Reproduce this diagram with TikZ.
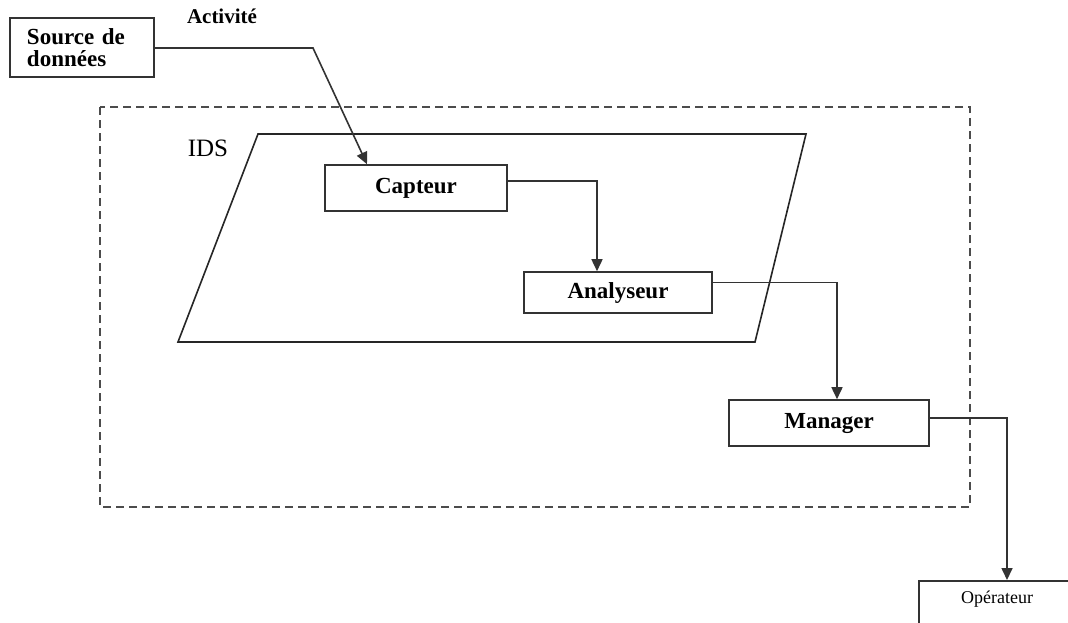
\documentclass[tikz,border=0pt]{standalone}
\usepackage{fontspec}
\setmainfont{Liberation Serif}
\usetikzlibrary{arrows.meta}

\tikzset{
  bloc/.style={draw=black!80, line width=1.6pt, fill=white, inner sep=0pt,
    font=\fontsize{23}{22}\selectfont\bfseries},
  fleche/.style={draw=black!80, line width=1.6pt, -{Triangle[length=12pt,width=11pt]}}
}

\begin{document}
\begin{tikzpicture}[x=1pt, y=-1pt]
    \clip (0,0) rectangle (1068,622);
    \fill[white] (0,0) rectangle (1068,622);

    % Zone en pointilles
    \draw[black!70, line width=1.6pt, dash pattern=on 8pt off 5pt] (100,107) rectangle (970,507);

    % IDS
    \draw[black!85, line width=1.6pt] (258,134) -- (806,134) -- (755,342) -- (178,342) -- cycle;
    \node[font=\fontsize{25}{30}\selectfont] (ids) at (208,148) {IDS};

    % Blocs
    \node[bloc, minimum width=144pt, minimum height=59pt, text width=110pt, inner xsep=17pt, align=left]
        (src) at (82,47.5) {Source de\\donn\'ees};
    \node[font=\fontsize{21}{25}\selectfont\bfseries] (act) at (222,16) {Activit\'e};
    \node[bloc, minimum width=182pt, minimum height=46pt] (capteur) at (416,188) {\raisebox{5pt}{Capteur}};
    \node[bloc, minimum width=188pt, minimum height=41pt] (analyseur) at (618,292.5) {\raisebox{3pt}{Analyseur}};
    \node[bloc, minimum width=200pt, minimum height=46pt] (manager) at (829,423) {\raisebox{3pt}{Manager}};
    \node[draw=black!80, line width=1.6pt, minimum width=200pt, minimum height=80pt, anchor=north west,
        inner sep=0pt] (operateur) at (918,580) {};
    \node[font=\fontsize{18}{22}\selectfont] (optxt) at (997,599) {Op\'erateur};

    % Fleches
    \coordinate (coude) at (313,48);
    \draw[fleche] (src.east |- coude) -- (coude) -- ([xshift=-49pt]capteur.north);
    \draw[fleche] ([yshift=7pt]capteur.east) -| ([xshift=-21pt]analyseur.north);
    \draw[fleche] ([yshift=10pt]analyseur.east) -| ([xshift=8pt]manager.north);
    \draw[fleche] ([yshift=5pt]manager.east) -| ([xshift=89pt]operateur.north west);
\end{tikzpicture}
\end{document}
